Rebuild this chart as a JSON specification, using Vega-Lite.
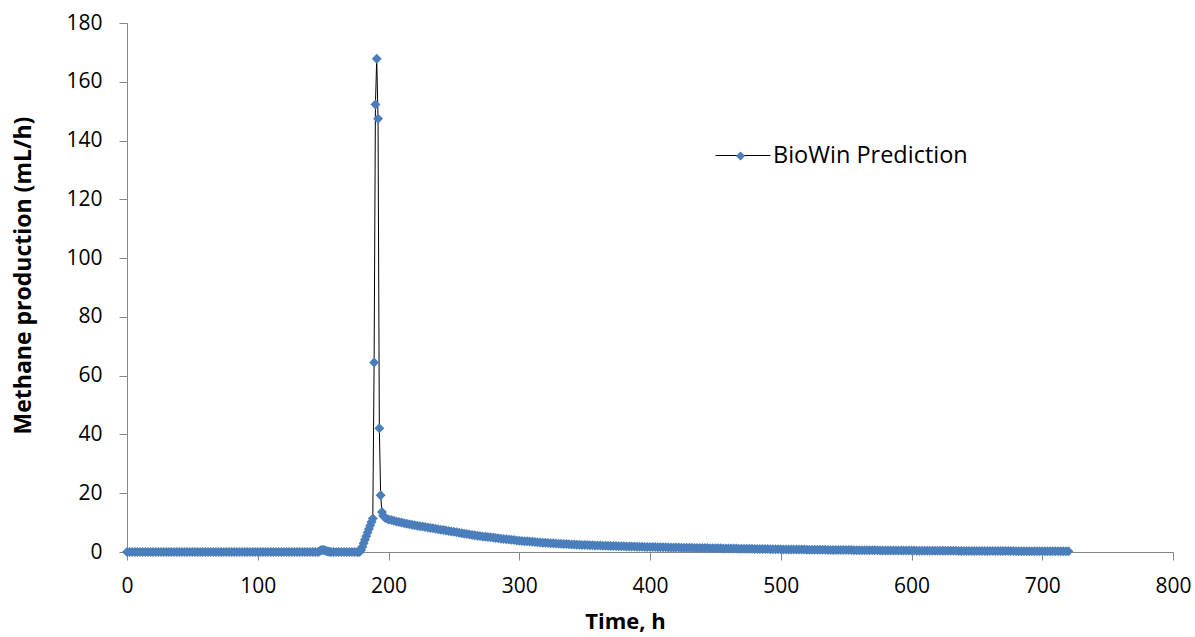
{
"$schema": "https://vega.github.io/schema/vega-lite/v6.json",
"width": 1046, "height": 529,
"autosize": {"type": "none"},
"padding": {"left": 127, "top": 23, "right": 22, "bottom": 85},
"background": "white",
"config": {"view": {"stroke": null}, "font": "Open Sans",
 "axis": {"grid": false, "labelFontSize": 21, "titleFontWeight": "bold", "labelColor": "black", "titleColor": "black", "domainColor": "#868686", "tickColor": "#868686", "tickSize": 8, "labelFlush": false, "labelFont": "Open Sans", "titleFont": "Open Sans"}},
"data": {"values": [
{"t":0,"v":0},{"t":2,"v":0},{"t":4,"v":0},{"t":6,"v":0},{"t":8,"v":0},{"t":10,"v":0},{"t":12,"v":0},{"t":14,"v":0},{"t":16,"v":0},{"t":18,"v":0},
{"t":20,"v":0},{"t":22,"v":0},{"t":24,"v":0},{"t":26,"v":0},{"t":28,"v":0},{"t":30,"v":0},{"t":32,"v":0},{"t":34,"v":0},{"t":36,"v":0},{"t":38,"v":0},
{"t":40,"v":0},{"t":42,"v":0},{"t":44,"v":0},{"t":46,"v":0},{"t":48,"v":0},{"t":50,"v":0},{"t":52,"v":0},{"t":54,"v":0},{"t":56,"v":0},{"t":58,"v":0},
{"t":60,"v":0},{"t":62,"v":0},{"t":64,"v":0},{"t":66,"v":0},{"t":68,"v":0},{"t":70,"v":0},{"t":72,"v":0},{"t":74,"v":0},{"t":76,"v":0},{"t":78,"v":0},
{"t":80,"v":0},{"t":82,"v":0},{"t":84,"v":0},{"t":86,"v":0},{"t":88,"v":0},{"t":90,"v":0},{"t":92,"v":0},{"t":94,"v":0},{"t":96,"v":0},{"t":98,"v":0},
{"t":100,"v":0},{"t":102,"v":0},{"t":104,"v":0},{"t":106,"v":0},{"t":108,"v":0},{"t":110,"v":0},{"t":112,"v":0},{"t":114,"v":0},{"t":116,"v":0},{"t":118,"v":0},
{"t":120,"v":0},{"t":122,"v":0},{"t":124,"v":0},{"t":126,"v":0},{"t":128,"v":0},{"t":130,"v":0},{"t":132,"v":0},{"t":134,"v":0},{"t":136,"v":0},{"t":138,"v":0},
{"t":140,"v":0},{"t":142,"v":0},{"t":144,"v":0},{"t":146,"v":0},{"t":147,"v":0.2},{"t":148,"v":0.5},{"t":149,"v":0.7},{"t":150,"v":0.7},{"t":151,"v":0.6},{"t":152,"v":0.4},
{"t":153,"v":0.25},{"t":154,"v":0.15},{"t":155,"v":0.05},{"t":156,"v":0},{"t":158,"v":0},{"t":160,"v":0},{"t":162,"v":0},{"t":164,"v":0},{"t":166,"v":0},{"t":168,"v":0},
{"t":170,"v":0},{"t":172,"v":0},{"t":174,"v":0},{"t":176,"v":0},{"t":177,"v":0},{"t":178,"v":0.1},{"t":179,"v":0.7},{"t":180,"v":1.8},{"t":181,"v":3.0},{"t":182,"v":4.2},
{"t":183,"v":5.4},{"t":184,"v":6.6},{"t":185,"v":7.8},{"t":186,"v":9.0},{"t":187,"v":10.2},{"t":188,"v":11.4},{"t":189,"v":64.5},{"t":190,"v":152.3},{"t":191,"v":167.8},{"t":192,"v":147.4},
{"t":193,"v":42.1},{"t":194,"v":19.3},{"t":195,"v":13.6},{"t":196,"v":12.3},{"t":197,"v":11.8},{"t":198,"v":11.5},{"t":200,"v":11.1},{"t":202,"v":10.9},{"t":204,"v":10.6},{"t":206,"v":10.4},
{"t":208,"v":10.2},{"t":210,"v":10.0},{"t":212,"v":9.8},{"t":214,"v":9.6},{"t":216,"v":9.4},{"t":218,"v":9.25},{"t":220,"v":9.1},{"t":222,"v":8.95},{"t":224,"v":8.8},{"t":226,"v":8.65},
{"t":228,"v":8.5},{"t":230,"v":8.35},{"t":232,"v":8.2},{"t":234,"v":8.05},{"t":236,"v":7.9},{"t":238,"v":7.75},{"t":240,"v":7.6},{"t":242,"v":7.45},{"t":244,"v":7.3},{"t":246,"v":7.15},
{"t":248,"v":7.0},{"t":250,"v":6.85},{"t":252,"v":6.7},{"t":254,"v":6.55},{"t":256,"v":6.4},{"t":258,"v":6.25},{"t":260,"v":6.1},{"t":262,"v":5.95},{"t":264,"v":5.8},{"t":266,"v":5.7},
{"t":268,"v":5.55},{"t":270,"v":5.45},{"t":272,"v":5.3},{"t":274,"v":5.2},{"t":276,"v":5.1},{"t":278,"v":5.0},{"t":280,"v":4.9},{"t":282,"v":4.78},{"t":284,"v":4.66},{"t":286,"v":4.55},
{"t":288,"v":4.45},{"t":290,"v":4.35},{"t":292,"v":4.25},{"t":294,"v":4.15},{"t":296,"v":4.05},{"t":298,"v":3.95},{"t":300,"v":3.86},{"t":302,"v":3.78},{"t":304,"v":3.7},{"t":306,"v":3.62},
{"t":308,"v":3.54},{"t":310,"v":3.46},{"t":312,"v":3.39},{"t":314,"v":3.32},{"t":316,"v":3.25},{"t":318,"v":3.18},{"t":320,"v":3.12},{"t":322,"v":3.06},{"t":324,"v":3.0},{"t":326,"v":2.94},
{"t":328,"v":2.88},{"t":330,"v":2.83},{"t":332,"v":2.78},{"t":334,"v":2.73},{"t":336,"v":2.68},{"t":338,"v":2.63},{"t":340,"v":2.58},{"t":342,"v":2.54},{"t":344,"v":2.5},{"t":346,"v":2.46},
{"t":348,"v":2.42},{"t":350,"v":2.38},{"t":352,"v":2.34},{"t":354,"v":2.3},{"t":356,"v":2.27},{"t":358,"v":2.24},{"t":360,"v":2.21},{"t":362,"v":2.18},{"t":364,"v":2.15},{"t":366,"v":2.12},
{"t":368,"v":2.09},{"t":370,"v":2.06},{"t":372,"v":2.03},{"t":374,"v":2.0},{"t":376,"v":1.97},{"t":378,"v":1.94},{"t":380,"v":1.92},{"t":382,"v":1.9},{"t":384,"v":1.87},{"t":386,"v":1.85},
{"t":388,"v":1.83},{"t":390,"v":1.8},{"t":392,"v":1.78},{"t":394,"v":1.76},{"t":396,"v":1.74},{"t":398,"v":1.72},{"t":400,"v":1.7},{"t":402,"v":1.68},{"t":404,"v":1.66},{"t":406,"v":1.64},
{"t":408,"v":1.62},{"t":410,"v":1.6},{"t":412,"v":1.58},{"t":414,"v":1.56},{"t":416,"v":1.55},{"t":418,"v":1.53},{"t":420,"v":1.51},{"t":422,"v":1.5},{"t":424,"v":1.48},{"t":426,"v":1.46},
{"t":428,"v":1.45},{"t":430,"v":1.43},{"t":432,"v":1.42},{"t":434,"v":1.4},{"t":436,"v":1.38},{"t":438,"v":1.37},{"t":440,"v":1.35},{"t":442,"v":1.34},{"t":444,"v":1.32},{"t":446,"v":1.31},
{"t":448,"v":1.29},{"t":450,"v":1.28},{"t":452,"v":1.26},{"t":454,"v":1.25},{"t":456,"v":1.23},{"t":458,"v":1.22},{"t":460,"v":1.2},{"t":462,"v":1.19},{"t":464,"v":1.17},{"t":466,"v":1.16},
{"t":468,"v":1.14},{"t":470,"v":1.13},{"t":472,"v":1.11},{"t":474,"v":1.1},{"t":476,"v":1.08},{"t":478,"v":1.07},{"t":480,"v":1.05},{"t":482,"v":1.04},{"t":484,"v":1.02},{"t":486,"v":1.01},
{"t":488,"v":0.99},{"t":490,"v":0.98},{"t":492,"v":0.96},{"t":494,"v":0.95},{"t":496,"v":0.93},{"t":498,"v":0.92},{"t":500,"v":0.9},{"t":502,"v":0.89},{"t":504,"v":0.88},{"t":506,"v":0.87},
{"t":508,"v":0.86},{"t":510,"v":0.85},{"t":512,"v":0.84},{"t":514,"v":0.83},{"t":516,"v":0.82},{"t":518,"v":0.81},{"t":520,"v":0.8},{"t":522,"v":0.79},{"t":524,"v":0.78},{"t":526,"v":0.77},
{"t":528,"v":0.76},{"t":530,"v":0.75},{"t":532,"v":0.74},{"t":534,"v":0.73},{"t":536,"v":0.72},{"t":538,"v":0.71},{"t":540,"v":0.7},{"t":542,"v":0.69},{"t":544,"v":0.68},{"t":546,"v":0.67},
{"t":548,"v":0.66},{"t":550,"v":0.66},{"t":552,"v":0.65},{"t":554,"v":0.64},{"t":556,"v":0.63},{"t":558,"v":0.62},{"t":560,"v":0.62},{"t":562,"v":0.61},{"t":564,"v":0.6},{"t":566,"v":0.59},
{"t":568,"v":0.58},{"t":570,"v":0.58},{"t":572,"v":0.57},{"t":574,"v":0.56},{"t":576,"v":0.55},{"t":578,"v":0.55},{"t":580,"v":0.54},{"t":582,"v":0.53},{"t":584,"v":0.53},{"t":586,"v":0.52},
{"t":588,"v":0.51},{"t":590,"v":0.51},{"t":592,"v":0.5},{"t":594,"v":0.49},{"t":596,"v":0.49},{"t":598,"v":0.48},{"t":600,"v":0.48},{"t":602,"v":0.47},{"t":604,"v":0.46},{"t":606,"v":0.46},
{"t":608,"v":0.45},{"t":610,"v":0.45},{"t":612,"v":0.44},{"t":614,"v":0.44},{"t":616,"v":0.43},{"t":618,"v":0.43},{"t":620,"v":0.42},{"t":622,"v":0.42},{"t":624,"v":0.41},{"t":626,"v":0.41},
{"t":628,"v":0.4},{"t":630,"v":0.4},{"t":632,"v":0.39},{"t":634,"v":0.39},{"t":636,"v":0.38},{"t":638,"v":0.38},{"t":640,"v":0.37},{"t":642,"v":0.37},{"t":644,"v":0.36},{"t":646,"v":0.36},
{"t":648,"v":0.35},{"t":650,"v":0.35},{"t":652,"v":0.35},{"t":654,"v":0.34},{"t":656,"v":0.34},{"t":658,"v":0.33},{"t":660,"v":0.33},{"t":662,"v":0.33},{"t":664,"v":0.32},{"t":666,"v":0.32},
{"t":668,"v":0.31},{"t":670,"v":0.31},{"t":672,"v":0.31},{"t":674,"v":0.3},{"t":676,"v":0.3},{"t":678,"v":0.3},{"t":680,"v":0.29},{"t":682,"v":0.29},{"t":684,"v":0.29},{"t":686,"v":0.28},
{"t":688,"v":0.28},{"t":690,"v":0.28},{"t":692,"v":0.27},{"t":694,"v":0.27},{"t":696,"v":0.27},{"t":698,"v":0.26},{"t":700,"v":0.26},{"t":702,"v":0.26},{"t":704,"v":0.25},{"t":706,"v":0.25},
{"t":708,"v":0.25},{"t":710,"v":0.25},{"t":712,"v":0.24},{"t":714,"v":0.24},{"t":716,"v":0.24},{"t":718,"v":0.23},{"t":720,"v":0.23}
]},
"encoding": {
 "x": {"field": "t", "type": "quantitative", "scale": {"domain": [0, 800], "nice": false, "zero": false},
  "axis": {"title": "Time, h", "titleFontSize": 22, "titleX": 498, "values": [0,100,200,300,400,500,600,700,800], "labelPadding": 15, "titlePadding": 15}},
 "y": {"field": "v", "type": "quantitative", "scale": {"domain": [0, 180], "nice": false},
  "axis": {"title": "Methane production (mL/h)", "titleFontSize": 23, "titleY": 252, "values": [0,20,40,60,80,100,120,140,160,180], "labelPadding": 17, "titlePadding": 30}}
},
"layer": [
 {"mark": {"type": "line", "strokeWidth": 1, "clip": false},
  "encoding": {"stroke": {"datum": "BioWin Prediction", "type": "nominal", "scale": {"domain": ["BioWin Prediction"], "range": ["black"]},
   "legend": {"title": null, "orient": "none", "legendX": 588, "legendY": 104.5, "padding": 0, "symbolType": "stroke", "symbolSize": 3025, "symbolStrokeWidth": 1, "labelFontSize": 23.5, "labelFont": "Open Sans", "labelColor": "black", "labelOffset": 2, "labelLimit": 0}}}},
 {"mark": {"type": "point", "shape": "diamond", "filled": true, "size": 100, "opacity": 1},
  "encoding": {"color": {"datum": "BioWin Prediction ", "type": "nominal", "scale": {"domain": ["BioWin Prediction "], "range": ["#4A7EBB"]},
   "legend": {"title": null, "orient": "none", "legendX": 608, "legendY": 127.5, "padding": 0, "symbolType": "diamond", "symbolSize": 80, "symbolOpacity": 1, "labelFontSize": 1, "labelColor": "transparent", "labelOffset": 0}}}}
]
}
